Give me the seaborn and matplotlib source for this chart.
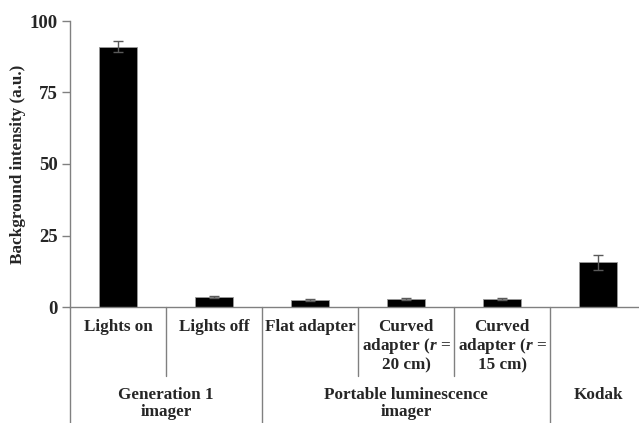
import matplotlib
matplotlib.use("Agg")
import matplotlib.pyplot as plt
import matplotlib.transforms as mtransforms
import seaborn as sns
import pandas as pd

# Measurements
conditions = ["Lights on", "Lights off", "Flat adapter",
              "Curved\nadapter ($r$ =\n20 cm)", "Curved\nadapter ($r$ =\n15 cm)", ""]
groups = ["Generation 1\nimager", "Portable luminescence\nimager", "Kodak"]
group_sizes = [2, 3, 1]
intensity = [91.0, 3.4, 2.5, 2.8, 2.8, 15.6]
intensity_err = [2.0, 0.3, 0.3, 0.3, 0.3, 2.7]
yticks = [0, 25, 50, 75, 100]

sns.set_theme(style="white")
plt.rcParams["font.family"] = ["Liberation Serif", "DejaVu Serif"]
plt.rcParams["font.weight"] = "bold"
plt.rcParams["mathtext.fontset"] = "custom"
plt.rcParams["mathtext.it"] = "Liberation Serif:bold:italic"
plt.rcParams["mathtext.rm"] = "Liberation Serif:bold"

W, H = 639, 423
fig = plt.figure(figsize=(W / 100, H / 100), dpi=100)
ax = fig.add_axes([70 / W, (H - 307) / H, 576 / W, 286 / H])

df = pd.DataFrame({"cond": range(len(intensity)), "val": intensity})
sns.barplot(data=df, x="cond", y="val", color="black", width=0.4,
            saturation=1, ax=ax, errorbar=None, edgecolor="#9a9a9a", linewidth=0.6)
ax.errorbar(range(len(intensity)), intensity, yerr=intensity_err, fmt="none",
            ecolor="#5a5a5a", elinewidth=1.0, capsize=3.5, capthick=1.0)

ax.set_xlim(-0.5, len(intensity) - 0.5)
ax.set_ylim(0, 100)
ax.set_yticks(yticks)
ax.set_yticklabels([str(t) for t in yticks], fontsize=13.5, fontweight="bold")
ax.set_xticks([])
ax.set_xlabel("")
ax.set_ylabel("Background intensity (a.u.)", fontsize=12.3, fontweight="bold")
ax.yaxis.set_label_coords(-0.076, 0.5)
ax.tick_params(axis="y", direction="out", length=6, width=1, color="#808080", pad=3, left=True)

for side in ["top", "right"]:
    ax.spines[side].set_visible(False)
for side in ["left", "bottom"]:
    ax.spines[side].set_color("#808080")
    ax.spines[side].set_linewidth(1.0)

# category labels and separators below the axis
trans = mtransforms.blended_transform_factory(ax.transData, fig.transFigure)
def fy(py):
    return 1 - py / H

for i, lab in enumerate(conditions):
    if lab:
        ax.text(i, fy(319), lab, transform=trans, ha="center", va="top",
                fontsize=12.3, fontweight="bold", linespacing=1.1)

boundaries = [-0.5]
for s in group_sizes:
    boundaries.append(boundaries[-1] + s)
group_edges = set(boundaries)
for i in range(len(intensity) + 1):
    xb = i - 0.5
    bottom = fy(H) if xb in group_edges else fy(376)
    ax.plot([xb, xb], [fy(307), bottom], transform=trans, color="#808080",
            lw=1.0, clip_on=False)

for g, lab in enumerate(groups):
    center = (boundaries[g] + boundaries[g + 1]) / 2
    ax.text(center, fy(387), lab, transform=trans, ha="center", va="top",
            fontsize=12.3, fontweight="bold", linespacing=1.1)

fig.savefig("out.png", dpi=100)
